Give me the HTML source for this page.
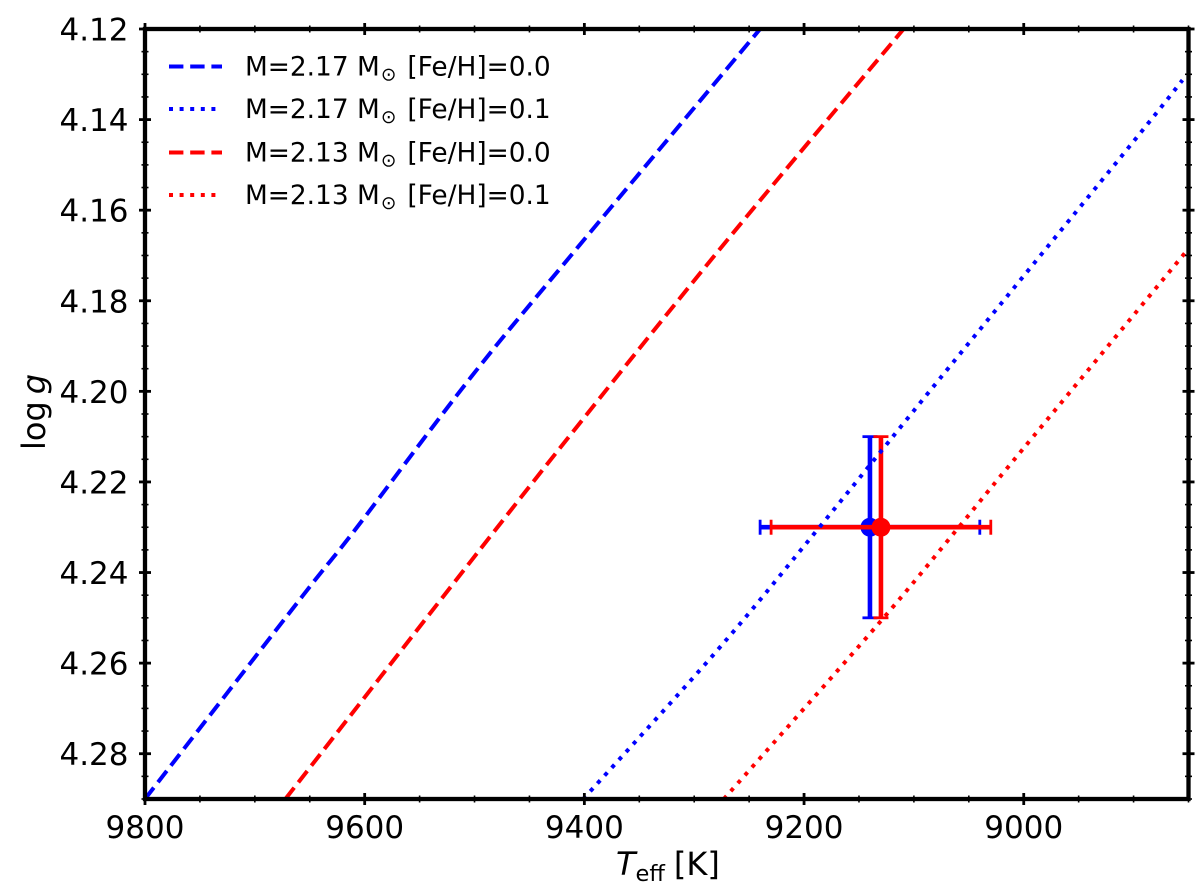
<!DOCTYPE html>
<html lang="en">
<head>
<meta charset="utf-8">
<title>log g vs Teff</title>
<style>
html,body{margin:0;padding:0;background:#fff;width:1200px;height:890px;overflow:hidden}
svg{display:block}
text{font-family:"DejaVu Sans",sans-serif;fill:#000}
</style>
</head>
<body>
<svg id="chart" xmlns="http://www.w3.org/2000/svg" width="1200" height="890" viewBox="0 0 1200 890">
  <defs><clipPath id="plot-clip"><rect x="145" y="29" width="1043.5" height="770"/></clipPath></defs>
  <rect x="0" y="0" width="1200" height="890" fill="#fff"/>
  <g id="errorbars" clip-path="url(#plot-clip)"></g>
  <g id="series" clip-path="url(#plot-clip)"></g>
  <g id="ticks"></g>
  <rect x="145" y="29" width="1043.5" height="770" fill="none" stroke="#000" stroke-width="4.3"/>
  <g id="labels"></g>
  <text x="616" y="875" font-size="32"><tspan font-style="italic">T</tspan><tspan font-size="22.5" dy="6">eff</tspan><tspan dy="-6" dx="9">[K]</tspan></text>
  <text transform="translate(45,450) rotate(-90)" font-size="32">log<tspan dx="7" font-style="italic">g</tspan></text>
  <g id="legend"></g>
</svg>
<script>
// Axis limits and ticks
const xDomain = [9800, 8850];
const yDomain = [4.12, 4.29];
const xMajorTicks = [9800, 9600, 9400, 9200, 9000];
const xMinorTicks = [9750, 9700, 9650, 9550, 9500, 9450, 9350, 9300, 9250, 9150, 9100, 9050, 8950, 8900, 8850];
const yMajorTicks = [4.12, 4.14, 4.16, 4.18, 4.20, 4.22, 4.24, 4.26, 4.28];
const yMinorTicks = [4.125, 4.13, 4.135, 4.145, 4.15, 4.155, 4.165, 4.17, 4.175, 4.185, 4.19, 4.195, 4.205, 4.21, 4.215, 4.225, 4.23, 4.235, 4.245, 4.25, 4.255, 4.265, 4.27, 4.275, 4.285, 4.29];

// Series values
const blueDashedTeff = [9800, 9656, 9609.5, 9502.7, 9405, 9240];
const blueDashedLogg = [4.29, 4.245, 4.2308, 4.1967, 4.1679, 4.12];
const redDashedTeff = [9672.2, 9502.7, 9400.5, 9270.6, 9109.4];
const redDashedLogg = [4.29, 4.2373, 4.2059, 4.1668, 4.12];
const blueDottedTeff = [9401, 9279.8, 9187, 9076.4, 8905, 8855.5];
const blueDottedLogg = [4.29, 4.2574, 4.2303, 4.1972, 4.1463, 4.1313];
const redDottedTeff = [9273, 9133.6, 9059.8, 9016.6, 8853.4];
const redDottedLogg = [4.29, 4.2517, 4.2302, 4.2174, 4.1695];

// Measurements
const pointTeff = [9140, 9130];
const pointLogg = [4.23, 4.23];
const pointTeffErr = [100, 100];
const pointLoggErr = [0.02, 0.02];
const pointColors = ['#0000ff', '#ff0000'];

// Legend
const legendLabels = ['M=2.17 M', 'M=2.17 M', 'M=2.13 M', 'M=2.13 M'];
const legendSuffix = ['[Fe/H]=0.0', '[Fe/H]=0.1', '[Fe/H]=0.0', '[Fe/H]=0.1'];

const NS = 'http://www.w3.org/2000/svg';
const plotLeft = 145, plotRight = 1188.5, plotTop = 29, plotBottom = 799;
function xScale(v) { return plotLeft + (v - xDomain[0]) / (xDomain[1] - xDomain[0]) * (plotRight - plotLeft); }
function yScale(v) { return plotTop + (v - yDomain[0]) / (yDomain[1] - yDomain[0]) * (plotBottom - plotTop); }
function make(tag, attrs, parent) {
  const el = document.createElementNS(NS, tag);
  for (const k in attrs) el.setAttribute(k, attrs[k]);
  parent.appendChild(el);
  return el;
}
const tickG = document.getElementById('ticks');
const labelG = document.getElementById('labels');
const seriesG = document.getElementById('series');
const errG = document.getElementById('errorbars');
const legendG = document.getElementById('legend');

// x ticks, top and bottom
[plotTop, plotBottom].forEach(function (yEdge) {
  xMajorTicks.forEach(function (t) {
    const l = make('line', { x1: xScale(t), x2: xScale(t), y1: yEdge - 6, y2: yEdge + 6, stroke: '#000', 'stroke-width': 2.8 }, tickG);
    
    
  });
  xMinorTicks.forEach(function (t) {
    const l = make('line', { x1: xScale(t), x2: xScale(t), y1: yEdge - 3.5, y2: yEdge + 3.5, stroke: '#000', 'stroke-width': 1.6 }, tickG);
    
    
  });
});
// y ticks, left and right
[plotLeft, plotRight].forEach(function (xEdge) {
  yMajorTicks.forEach(function (t) {
    const l = make('line', { x1: xEdge - 6, x2: xEdge + 6, y1: yScale(t), y2: yScale(t), stroke: '#000', 'stroke-width': 2.8 }, tickG);
    
    
  });
  yMinorTicks.forEach(function (t) {
    const l = make('line', { x1: xEdge - 3.5, x2: xEdge + 3.5, y1: yScale(t), y2: yScale(t), stroke: '#000', 'stroke-width': 1.6 }, tickG);
    
    
  });
});
// tick labels
xMajorTicks.forEach(function (t) {
  const el = make('text', { x: xScale(t), y: 838, 'text-anchor': 'middle', 'font-size': 31 }, labelG);
  
  
  el.textContent = String(t);
});
yMajorTicks.forEach(function (t) {
  const el = make('text', { x: 128.5, y: yScale(t) + 11.5, 'text-anchor': 'end', 'font-size': 31 }, labelG);
  
  
  el.textContent = t.toFixed(2);
});

// error bars
pointTeff.forEach(function (t, i) {
  const g = make('g', {}, errG);
  
  
  const c = pointColors[i];
  const cx = xScale(t), cy = yScale(pointLogg[i]);
  const xl = xScale(t - pointTeffErr[i]), xr = xScale(t + pointTeffErr[i]);
  const yt = yScale(pointLogg[i] - pointLoggErr[i]), yb = yScale(pointLogg[i] + pointLoggErr[i]);
  make('line', { x1: xl, x2: xr, y1: cy, y2: cy, stroke: c, 'stroke-width': 4.6 }, g);
  make('line', { x1: cx, x2: cx, y1: yt, y2: yb, stroke: c, 'stroke-width': 4.6 }, g);
  make('line', { x1: xl, x2: xl, y1: cy - 7.5, y2: cy + 7.5, stroke: c, 'stroke-width': 2.8 }, g);
  make('line', { x1: xr, x2: xr, y1: cy - 7.5, y2: cy + 7.5, stroke: c, 'stroke-width': 2.8 }, g);
  make('line', { x1: cx - 7.5, x2: cx + 7.5, y1: yt, y2: yt, stroke: c, 'stroke-width': 2.8 }, g);
  make('line', { x1: cx - 7.5, x2: cx + 7.5, y1: yb, y2: yb, stroke: c, 'stroke-width': 2.8 }, g);
  make('circle', { cx: cx, cy: cy, r: 9.5, fill: c }, g);
});

// series: smooth curve through the read-off points
const dashPattern = '14.4 6.8';
const dotPattern = '4 6.6';
function smoothPath(xs, ys) {
  const px = xs.map(xScale), py = ys.map(yScale);
  let d = 'M' + px[0].toFixed(2) + ' ' + py[0].toFixed(2);
  for (let i = 0; i < px.length - 1; i++) {
    const a = Math.max(i - 1, 0), b = Math.min(i + 2, px.length - 1);
    const c1x = px[i] + (px[i + 1] - px[a]) / 6, c1y = py[i] + (py[i + 1] - py[a]) / 6;
    const c2x = px[i + 1] - (px[b] - px[i]) / 6, c2y = py[i + 1] - (py[b] - py[i]) / 6;
    d += ' C' + c1x.toFixed(2) + ' ' + c1y.toFixed(2) + ' ' + c2x.toFixed(2) + ' ' + c2y.toFixed(2) + ' ' + px[i + 1].toFixed(2) + ' ' + py[i + 1].toFixed(2);
  }
  return d;
}
function drawSeries(xs, ys, color, dash, name) {
  const p = make('path', { d: smoothPath(xs, ys), fill: 'none', stroke: color, 'stroke-width': 4, 'stroke-dasharray': dash }, seriesG);
  
  
}
drawSeries(blueDashedTeff, blueDashedLogg, '#0000ff', dashPattern, 'track-m217-feh00');
drawSeries(blueDottedTeff, blueDottedLogg, '#0000ff', dotPattern, 'track-m217-feh01');
drawSeries(redDashedTeff, redDashedLogg, '#ff0000', dashPattern, 'track-m213-feh00');
drawSeries(redDottedTeff, redDottedLogg, '#ff0000', dotPattern, 'track-m213-feh01');

// legend
const legendColors = ['#0000ff', '#0000ff', '#ff0000', '#ff0000'];
const legendRowY = [66.5, 109, 152.5, 195];
const legendDash = [dashPattern, dotPattern, dashPattern, dotPattern];
legendLabels.forEach(function (label, i) {
  const g = make('g', {}, legendG);
  
  
  make('line', { x1: 169, x2: 222, y1: legendRowY[i], y2: legendRowY[i], stroke: legendColors[i], 'stroke-width': 4, 'stroke-dasharray': legendDash[i] }, g);
  const t = make('text', { x: 245, y: legendRowY[i] + 9, 'font-size': 26.4 }, g);
  t.appendChild(document.createTextNode(label));
  const sun = make('tspan', { 'font-size': 18.5, dy: 5, dx: 1 }, t);
  sun.textContent = '\u2299';
  const rest = make('tspan', { dy: -5, dx: 11 }, t);
  rest.textContent = legendSuffix[i];
});
</script>
</body>
</html>
